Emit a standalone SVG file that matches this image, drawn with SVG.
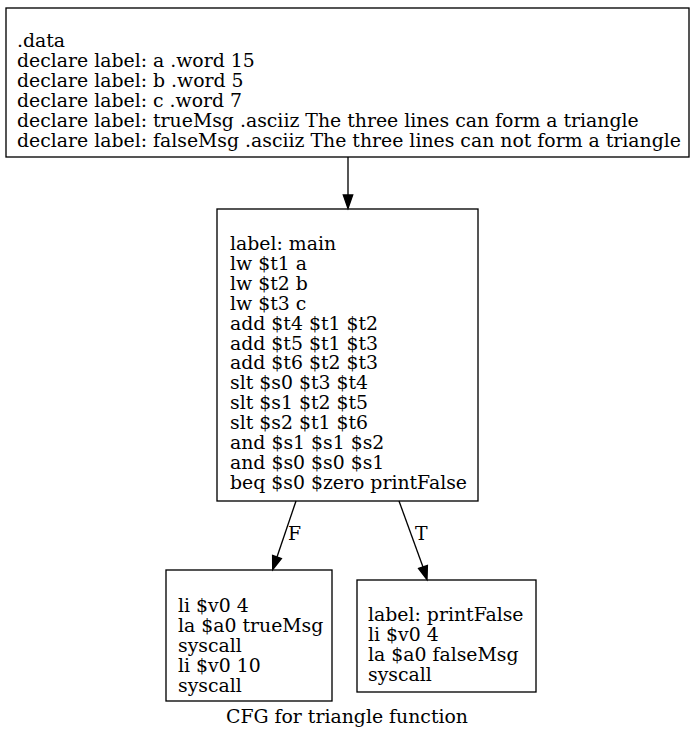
<svg xmlns="http://www.w3.org/2000/svg" width="696" height="739" viewBox="0 0 696 739">
<style>
.box{fill:#fff;stroke:#000;stroke-width:1.33}
.t{font-family:"DejaVu Serif","Liberation Serif",serif;font-size:18.85px;fill:#000}
.e{stroke:#000;stroke-width:1.33;fill:none}
.ah{fill:#000;stroke:#000;stroke-width:1.33}
</style>
<rect width="696" height="739" fill="#fff"/>
<g id="node-data">
<rect class="box" x="6" y="8" width="683" height="149"/>
<text class="t" x="17" y="47">.data</text>
<text class="t" x="17" y="66.9">declare label: a .word 15</text>
<text class="t" x="17" y="86.8">declare label: b .word 5</text>
<text class="t" x="17" y="106.7">declare label: c .word 7</text>
<text class="t" x="17" y="126.6">declare label: trueMsg .asciiz The three lines can form a triangle</text>
<text class="t" x="17" y="146.5">declare label: falseMsg .asciiz The three lines can not form a triangle</text>
</g>
<g id="node-main">
<rect class="box" x="217" y="209" width="261" height="292"/>
<text class="t" x="230" y="250">label: main</text>
<text class="t" x="230" y="269.9">lw $t1 a</text>
<text class="t" x="230" y="289.8">lw $t2 b</text>
<text class="t" x="230" y="309.7">lw $t3 c</text>
<text class="t" x="230" y="329.6">add $t4 $t1 $t2</text>
<text class="t" x="230" y="349.5">add $t5 $t1 $t3</text>
<text class="t" x="230" y="369.4">add $t6 $t2 $t3</text>
<text class="t" x="230" y="389.3">slt $s0 $t3 $t4</text>
<text class="t" x="230" y="409.2">slt $s1 $t2 $t5</text>
<text class="t" x="230" y="429.1">slt $s2 $t1 $t6</text>
<text class="t" x="230" y="449">and $s1 $s1 $s2</text>
<text class="t" x="230" y="468.9">and $s0 $s0 $s1</text>
<text class="t" x="230" y="488.8">beq $s0 $zero printFalse</text>
</g>
<g id="node-true">
<rect class="box" x="166" y="570" width="166" height="131"/>
<text class="t" x="178" y="612">li $v0 4</text>
<text class="t" x="178" y="631.9">la $a0 trueMsg</text>
<text class="t" x="178" y="651.8">syscall</text>
<text class="t" x="178" y="671.7">li $v0 10</text>
<text class="t" x="178" y="691.6">syscall</text>
</g>
<g id="node-printFalse">
<rect class="box" x="357" y="580" width="179" height="112"/>
<text class="t" x="368" y="621">label: printFalse</text>
<text class="t" x="368" y="640.9">li $v0 4</text>
<text class="t" x="368" y="660.8">la $a0 falseMsg</text>
<text class="t" x="368" y="680.7">syscall</text>
</g>
<g id="edges">
<line class="e" x1="348" y1="157" x2="348" y2="195"/>
<polygon class="ah" points="343.3,195 352.7,195 348,208.5"/>
<line class="e" x1="296" y1="501" x2="277" y2="557"/>
<polygon class="ah" points="272.6,555.5 281.4,558.5 272.7,569.5"/>
<text class="t" x="288" y="540">F</text>
<line class="e" x1="399" y1="501" x2="423" y2="567"/>
<polygon class="ah" points="418.6,568.5 427.4,565.5 427,579.5"/>
<text class="t" x="415" y="540">T</text>
</g>
<text class="t" x="347" y="723" text-anchor="middle">CFG for triangle function</text>
</svg>
